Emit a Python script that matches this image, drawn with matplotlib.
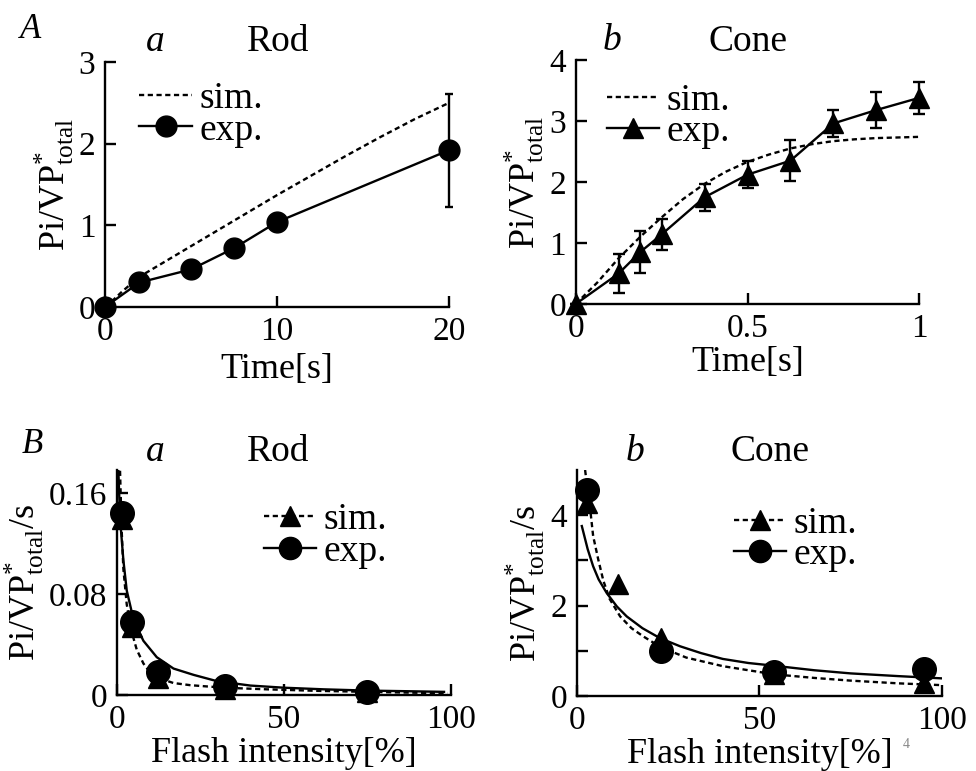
import matplotlib
matplotlib.use("Agg")
import matplotlib.pyplot as plt
from matplotlib.lines import Line2D

plt.rcParams['font.family'] = ['Liberation Serif', 'DejaVu Serif']
plt.rcParams['mathtext.fontset'] = 'custom'
plt.rcParams['mathtext.rm'] = 'Liberation Serif'
plt.rcParams['mathtext.it'] = 'Liberation Serif:italic'

# ---------------- data ----------------
# A-a Rod, time course
rod_t_exp = [0, 2, 5, 7.5, 10, 20]
rod_exp = [0, 0.30, 0.46, 0.72, 1.04, 1.92]
rod_exp_err = [0, 0.03, 0.03, 0.10, 0.04, 0.69]
rod_t_sim = [0, 0.5, 1, 2, 4, 6, 8, 10, 12, 14, 16, 18, 20]
rod_sim = [0, 0.09, 0.19, 0.37, 0.62, 0.87, 1.12, 1.37, 1.61, 1.85, 2.08, 2.30, 2.5]

# A-b Cone, time course
cone_t_exp = [0, 0.125, 0.1875, 0.25, 0.375, 0.5, 0.625, 0.75, 0.875, 1.0]
cone_exp = [0, 0.50, 0.85, 1.14, 1.75, 2.12, 2.35, 2.96, 3.18, 3.38]
cone_exp_err = [0, 0.32, 0.34, 0.25, 0.22, 0.22, 0.34, 0.22, 0.29, 0.26]
cone_t_sim = [0, 0.0625, 0.125, 0.1875, 0.25, 0.3125, 0.375, 0.4375, 0.5,
              0.5625, 0.625, 0.6875, 0.75, 0.8125, 0.875, 0.9375, 1.0]
cone_sim = [0, 0.35, 0.75, 1.1, 1.42, 1.72, 1.97, 2.17, 2.33,
            2.45, 2.55, 2.62, 2.67, 2.70, 2.72, 2.73, 2.74]

# B-a Rod, flash intensity
rod_I_exp = [1.5, 4.5, 12.5, 32.5, 75]
rod_rate_exp = [0.1444, 0.058, 0.0183, 0.0071, 0.0026]
rod_I_sim = [1.5, 4.5, 12.5, 32.5, 75]
rod_rate_sim = [0.140, 0.054, 0.0135, 0.005, 0.002]
rod_fit_I = [0.5, 1, 2, 3, 4.5, 6, 8, 12, 17, 23, 30, 40, 50, 62, 75, 87, 98]
rod_fit = [0.178, 0.14, 0.107, 0.083, 0.066, 0.054, 0.043, 0.030, 0.021,
           0.016, 0.011, 0.0075, 0.0058, 0.0045, 0.0035, 0.003, 0.0025]
rod_simc_I = [1, 1.5, 2, 3, 4.5, 6, 8, 10, 12.5, 17, 22, 28, 35, 45, 60, 75, 90, 99]
rod_simc = [0.178, 0.13, 0.10, 0.072, 0.05, 0.036, 0.025, 0.018, 0.0135, 0.0095,
            0.0078, 0.0066, 0.0055, 0.0045, 0.0033, 0.0025, 0.0018, 0.0015]

# B-b Cone, flash intensity
cone_I_exp = [2.7, 23.2, 54, 95]
cone_rate_exp = [4.56, 1.0, 0.54, 0.60]
cone_I_sim = [2.7, 11.4, 23.2, 54, 95]
cone_rate_sim = [4.28, 2.47, 1.28, 0.48, 0.28]
cone_fit_I = [1.4, 3, 4.5, 6, 8.2, 11, 13.7, 18, 22.8, 28.3, 34, 40, 47, 54, 65, 75, 88, 100]
cone_fit = [3.76, 3.25, 2.87, 2.58, 2.28, 1.98, 1.76, 1.5, 1.28, 1.10, 0.95,
            0.82, 0.73, 0.67, 0.57, 0.50, 0.44, 0.39]
cone_simc_I = [2.3, 3, 3.7, 4.5, 5.9, 7.3, 9, 11.9, 15, 18.2, 23, 30, 40, 54, 65, 75, 88, 100]
cone_simc = [5.0, 4.55, 4.13, 3.54, 3.02, 2.55, 2.15, 1.76, 1.5, 1.32, 1.08,
             0.85, 0.66, 0.48, 0.40, 0.34, 0.28, 0.24]

# ---------------- style ----------------
W, H = 976, 771
fig = plt.figure(figsize=(W / 100, H / 100), dpi=100)
TICK_FS = 24
LABEL_FS = 26
TITLE_FS = 27
LEG_FS = 27
LW = 1.7
DOT = (0, (2.2, 1.5))


def make_ax(x0, x1, ytop, ybot):
    ax = fig.add_axes([x0 / W, 1 - ybot / H, (x1 - x0) / W, (ybot - ytop) / H])
    ax.spines['top'].set_visible(False)
    ax.spines['right'].set_visible(False)
    for s in ('left', 'bottom'):
        ax.spines[s].set_linewidth(LW)
    ax.tick_params(direction='in', length=8, width=LW, labelsize=TICK_FS, pad=7)
    return ax


def legend(ax, hs, anchor):
    ax.legend(hs, ['sim.', 'exp.'], loc='upper left', bbox_to_anchor=anchor,
              frameon=False, fontsize=LEG_FS, borderpad=0, borderaxespad=0,
              handletextpad=0.2, labelspacing=-0.08, handlelength=1.4)


ylab = r'Pi/VP$^{*}_{\mathrm{total}}$'
ylab_s = r'Pi/VP$^{*}_{\mathrm{total}}$/s'

# A-a
ax = make_ax(105, 449, 62, 307)
ax.plot(rod_t_sim, rod_sim, color='k', lw=LW, ls=DOT)
ax.errorbar(rod_t_exp, rod_exp, yerr=rod_exp_err, color='k', lw=LW, marker='o',
            ms=15, capsize=3, capthick=LW, elinewidth=LW, clip_on=False)
ax.set_xlim(0, 20)
ax.set_ylim(0, 3)
ax.set_xticks([0, 10, 20])
ax.set_yticks([0, 1, 2, 3])
ax.set_xlabel('Time[s]', fontsize=LABEL_FS, labelpad=4)
ax.set_ylabel(ylab, fontsize=LABEL_FS, labelpad=2)
hs = [Line2D([], [], color='k', lw=LW, ls=DOT),
      Line2D([], [], color='k', lw=LW, marker='o', ms=15)]
legend(ax, hs, (0.10, 0.92))

# A-b
ax = make_ax(575.7, 919.3, 60, 304)
ax.plot(cone_t_sim, cone_sim, color='k', lw=LW, ls=DOT)
ax.errorbar(cone_t_exp, cone_exp, yerr=cone_exp_err, color='k', lw=LW, marker='^',
            ms=15, capsize=4, capthick=LW, elinewidth=LW, clip_on=False)
ax.set_xlim(0, 1)
ax.set_ylim(0, 4)
ax.set_xticks([0, 0.5, 1])
ax.set_xticklabels(['0', '0.5', '1'])
ax.set_yticks([0, 1, 2, 3, 4])
ax.set_xlabel('Time[s]', fontsize=LABEL_FS, labelpad=1)
ax.set_ylabel(ylab, fontsize=LABEL_FS, labelpad=2)
hs = [Line2D([], [], color='k', lw=LW, ls=DOT),
      Line2D([], [], color='k', lw=LW, marker='^', ms=15)]
legend(ax, hs, (0.09, 0.905))

# B-a
ax = make_ax(116.7, 450.7, 470, 695)
ax.plot(rod_simc_I, rod_simc, color='k', lw=LW, ls=DOT)
ax.plot(rod_fit_I, rod_fit, color='k', lw=LW)
ax.plot(rod_I_sim, rod_rate_sim, 'k^', ms=14, ls='none', clip_on=False)
ax.plot(rod_I_exp, rod_rate_exp, 'ko', ms=17, ls='none', clip_on=False)
ax.set_xlim(0, 100)
ax.set_ylim(0, 0.1786)
ax.set_xticks([0, 50, 100])
ax.set_yticks([0, 0.08, 0.16])
ax.set_yticklabels(['0', '0.08', '0.16'])
ax.set_xlabel('Flash intensity[%]', fontsize=LABEL_FS, labelpad=1)
ax.set_ylabel(ylab_s, fontsize=LABEL_FS, labelpad=2)
hs = [Line2D([], [], color='k', lw=LW, ls=DOT, marker='^', ms=14),
      Line2D([], [], color='k', lw=LW, marker='o', ms=16)]
legend(ax, hs, (0.44, 0.855))

# B-b
ax = make_ax(576.7, 942, 470, 696)
ax.plot(cone_simc_I, cone_simc, color='k', lw=LW, ls=DOT)
ax.plot(cone_fit_I, cone_fit, color='k', lw=LW)
ax.plot(cone_I_sim, cone_rate_sim, 'k^', ms=14, ls='none', clip_on=False)
ax.plot(cone_I_exp, cone_rate_exp, 'ko', ms=17, ls='none', clip_on=False)
ax.set_xlim(0, 100)
ax.set_ylim(0, 5)
ax.set_xticks([0, 50, 100])
ax.set_yticks([0, 1, 2, 3, 4])
ax.set_yticklabels(['0', '', '2', '', '4'])
ax.set_xlabel('Flash intensity[%]', fontsize=LABEL_FS, labelpad=1)
ax.set_ylabel(ylab_s, fontsize=LABEL_FS, labelpad=2)
hs = [Line2D([], [], color='k', lw=LW, ls=DOT, marker='^', ms=14),
      Line2D([], [], color='k', lw=LW, marker='o', ms=16)]
legend(ax, hs, (0.43, 0.84))

# panel texts
def ftext(x, y, s, **kw):
    fig.text(x / W, 1 - y / H, s, ha='center', va='center', **kw)

ftext(31, 30, 'A', fontsize=25, style='italic')
ftext(155, 42, 'a', fontsize=TITLE_FS, style='italic')
ftext(278, 42, 'Rod', fontsize=TITLE_FS)
ftext(612, 41, 'b', fontsize=TITLE_FS, style='italic')
ftext(748, 42, 'Cone', fontsize=TITLE_FS)
ftext(32, 445, 'B', fontsize=25, style='italic')
ftext(155, 452, 'a', fontsize=TITLE_FS, style='italic')
ftext(278, 452, 'Rod', fontsize=TITLE_FS)
ftext(635, 452, 'b', fontsize=TITLE_FS, style='italic')
ftext(770, 452, 'Cone', fontsize=TITLE_FS)
ftext(906, 745, '4', fontsize=10, color='#888888')

fig.savefig('out.png', dpi=100)
